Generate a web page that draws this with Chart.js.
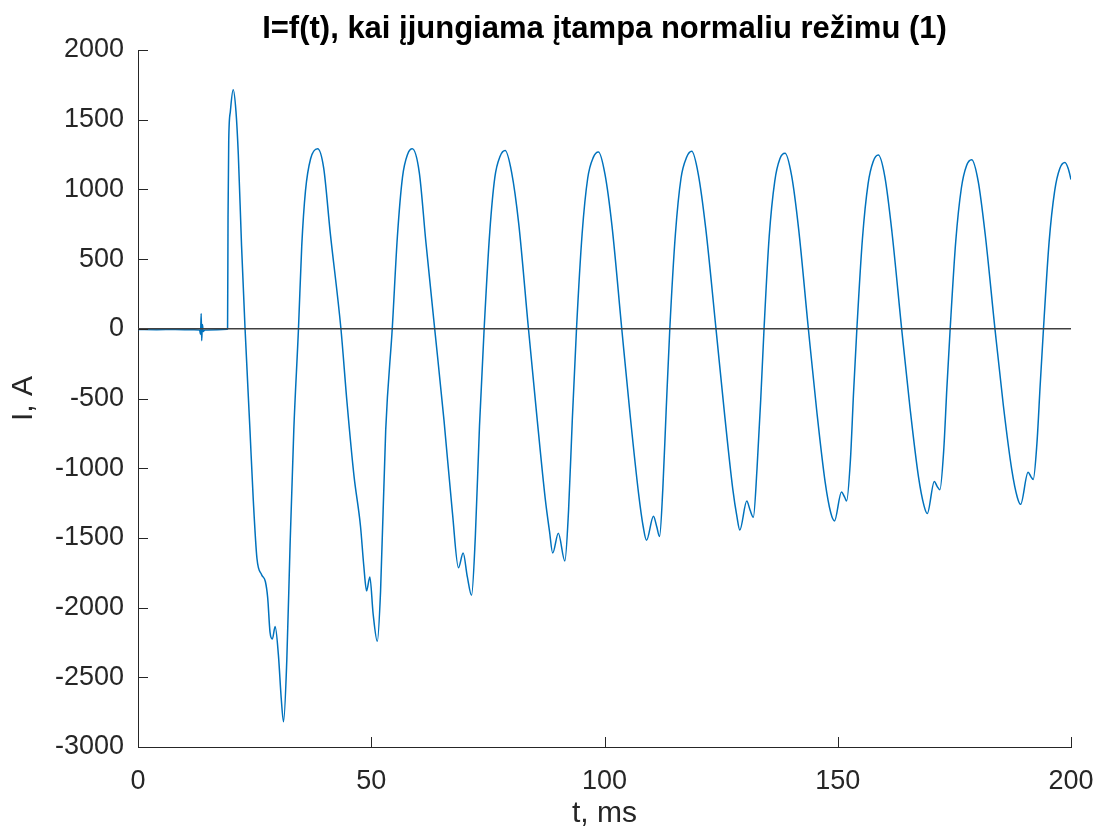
<!DOCTYPE html>
<html>
<head>
<meta charset="utf-8">
<script src="https://cdn.jsdelivr.net/npm/chart.js@4"></script>
<style>
html,body{margin:0;padding:0;background:#fff;}
canvas{display:block;}
</style>
</head>
<body>
<canvas id="c" width="1106" height="832"></canvas>
<script>
const chartTitle = "I=f(t), kai įjungiama įtampa normaliu režimu (1)";
const xAxisTitle = "t, ms";
const yAxisTitle = "I, A";
const xTickValues = [0, 50, 100, 150, 200];
const yTickValues = [-3000, -2500, -2000, -1500, -1000, -500, 0, 500, 1000, 1500, 2000];

const timeMs = [
  0, 4, 8, 12, 13.2, 13.4, 13.55, 13.65, 13.8, 14.0, 14.3, 17, 19.1,
  19.2, 19.3, 19.45, 19.8, 20.4, 21.0, 21.5, 22.2, 22.95,
  24.0, 24.7, 25.5, 26.5, 27.3, 27.8, 28.3, 28.8, 29.4, 30.1, 30.7, 31.2, 31.9, 32.6, 33.4, 34.4,
  35.1, 35.9, 37.0, 38.5, 39.8, 41.2, 43.5,
  44.8, 46.3, 47.7, 48.4, 49.0, 49.7, 50.4, 51.3, 52.0, 53.1, 54.5,
  55.6, 56.7, 57.8, 58.8, 60.3, 61.7, 63.6,
  65.6, 67.4, 68.7, 69.7, 70.6, 71.5, 72.3, 73.2, 74.2,
  75.4, 76.5, 77.6, 78.7, 80.1, 81.6, 83.7,
  85.5, 87.3, 88.2, 88.9, 90.1, 91.5, 92.3, 93.1, 94.0,
  95.2, 96.4, 97.6, 98.7, 100.1, 101.6, 103.7,
  105.5, 107.3, 108.3, 109.0, 110.5, 111.2, 111.8, 112.5, 113.2, 114.0,
  115.2, 116.4, 117.6, 118.7, 120.1, 121.7, 123.9,
  125.7, 127.5, 128.4, 129.0, 130.5, 131.2, 131.9, 132.7, 133.5, 134.2,
  135.3, 136.5, 137.6, 138.7, 140.1, 141.6, 143.7,
  145.5, 147.3, 148.5, 149.3, 150.8, 151.5, 151.9, 152.7, 153.4, 154.1,
  155.3, 156.5, 157.6, 158.7, 160.1, 161.6, 163.7,
  165.5, 167.3, 168.5, 169.2, 170.7, 171.3, 171.9, 172.7, 173.4, 174.1,
  175.3, 176.5, 177.6, 178.7, 180.1, 181.6, 183.7,
  185.5, 187.3, 188.5, 189.2, 190.8, 191.4, 191.9, 192.7, 193.4, 194.1,
  195.3, 196.5, 197.6, 198.7, 199.4, 200
];

const currentA = [
  -5, -6, -5, -7, -8, -40, 110, -85, 30, -20, -8, -6, -4,
  0, 800, 1350, 1560, 1714, 1560, 1253, 593, 0,
  -725, -1220, -1648, -1764, -1813, -1929, -2176, -2225, -2136, -2341, -2650, -2819, -2374, -1550, -725, 0,
  593, 989, 1220, 1292, 1154, 692, 0,
  -527, -1055, -1418, -1700, -1880, -1780, -2044, -2242, -1880, -725, 0,
  660, 1088, 1253, 1292, 1121, 626, 0,
  -659, -1319, -1714, -1609, -1780, -1912, -1500, -700, 0,
  692, 1088, 1236, 1279, 1121, 758, 0,
  -626, -1220, -1450, -1609, -1467, -1665, -1300, -650, 0,
  680, 1080, 1230, 1269, 1110, 740, 0,
  -620, -1180, -1420, -1517, -1345, -1420, -1490, -1150, -600, 0,
  680, 1080, 1230, 1273, 1110, 720, 0,
  -600, -1150, -1350, -1444, -1236, -1300, -1352, -1000, -500, 0,
  660, 1060, 1220, 1259, 1100, 720, 0,
  -590, -1100, -1320, -1378, -1170, -1210, -1236, -950, -450, 0,
  650, 1040, 1200, 1246, 1090, 700, 0,
  -570, -1060, -1270, -1325, -1095, -1130, -1154, -880, -420, 0,
  630, 1010, 1170, 1213, 1060, 680, 0,
  -550, -1010, -1210, -1259, -1029, -1060, -1081, -820, -400, 0,
  620, 990, 1150, 1193, 1150, 1071
];

const zeroLineT = [0, 200];
const zeroLineI = [0, 0];

const axisColor = '#262626';
const fontFamily = '"Liberation Sans", Arial, Helvetica, sans-serif';

const inwardTicks = {
  id: 'inwardTicks',
  afterDraw(chart) {
    const ctx = chart.ctx;
    const area = chart.chartArea;
    const xs = chart.scales.x, ys = chart.scales.y;
    const len = 10;
    ctx.save();
    ctx.strokeStyle = axisColor;
    ctx.lineWidth = 1;
    ctx.beginPath();
    xs.ticks.forEach(t => {
      const px = Math.round(xs.getPixelForValue(t.value)) + 0.5;
      ctx.moveTo(px, area.bottom);
      ctx.lineTo(px, area.bottom - len);
    });
    ys.ticks.forEach(t => {
      const py = Math.round(ys.getPixelForValue(t.value)) + 0.5;
      ctx.moveTo(area.left, py);
      ctx.lineTo(area.left + len, py);
    });
    ctx.stroke();
    ctx.fillStyle = '#000';
    ctx.font = 'bold 31px ' + fontFamily;
    ctx.textAlign = 'center';
    ctx.textBaseline = 'alphabetic';
    ctx.fillText(chartTitle, (area.left + area.right) / 2, 38);
    ctx.restore();
  }
};

new Chart(document.getElementById('c'), {
  type: 'scatter',
  data: {
    datasets: [
      {
        label: 'zero',
        data: zeroLineT.map((t, i) => ({x: t, y: zeroLineI[i]})),
        showLine: true,
        borderColor: '#404040',
        borderWidth: 1.5,
        pointRadius: 0,
        order: 0
      },
      {
        label: 'I',
        data: timeMs.map((t, i) => ({x: t, y: currentA[i]})),
        showLine: true,
        borderColor: '#0072BD',
        borderWidth: 1.5,
        pointRadius: 0,
        cubicInterpolationMode: 'monotone',
        order: 1
      }
    ]
  },
  options: {
    responsive: false,
    animation: false,
    events: [],
    layout: { padding: { left: 0, right: 35, top: 50, bottom: 0 } },
    plugins: {
      legend: { display: false },
      tooltip: { enabled: false },
      title: { display: false }
    },
    scales: {
      x: {
        type: 'linear',
        min: 0, max: 200,
        afterBuildTicks(scale) { scale.ticks = xTickValues.map(v => ({value: v})); },
        afterFit(scale) { scale.height = 85; scale.paddingRight = 0; scale.paddingLeft = 0; },
        grid: { drawOnChartArea: false, drawTicks: false },
        border: { display: true, color: axisColor, width: 1 },
        ticks: {
          color: axisColor,
          padding: 18,
          maxRotation: 0,
          font: { family: fontFamily, size: 27 },
          callback: v => String(v)
        },
        title: {
          display: true,
          text: xAxisTitle,
          color: axisColor,
          font: { family: fontFamily, size: 30, lineHeight: 1.2 },
          padding: { top: 0, bottom: 0 }
        }
      },
      y: {
        type: 'linear',
        min: -3000, max: 2000,
        afterBuildTicks(scale) { scale.ticks = yTickValues.map(v => ({value: v})); },
        afterFit(scale) { scale.width = 138; scale.paddingTop = 0; scale.paddingBottom = 0; },
        grid: { drawOnChartArea: false, drawTicks: false },
        border: { display: true, color: axisColor, width: 1 },
        ticks: {
          color: axisColor,
          padding: 14,
          font: { family: fontFamily, size: 27 },
          callback: v => String(v)
        },
        title: {
          display: true,
          text: yAxisTitle,
          color: axisColor,
          font: { family: fontFamily, size: 30, lineHeight: 1.2 },
          padding: { top: 6, bottom: 0 }
        }
      }
    }
  },
  plugins: [inwardTicks]
});
</script>
</body>
</html>
